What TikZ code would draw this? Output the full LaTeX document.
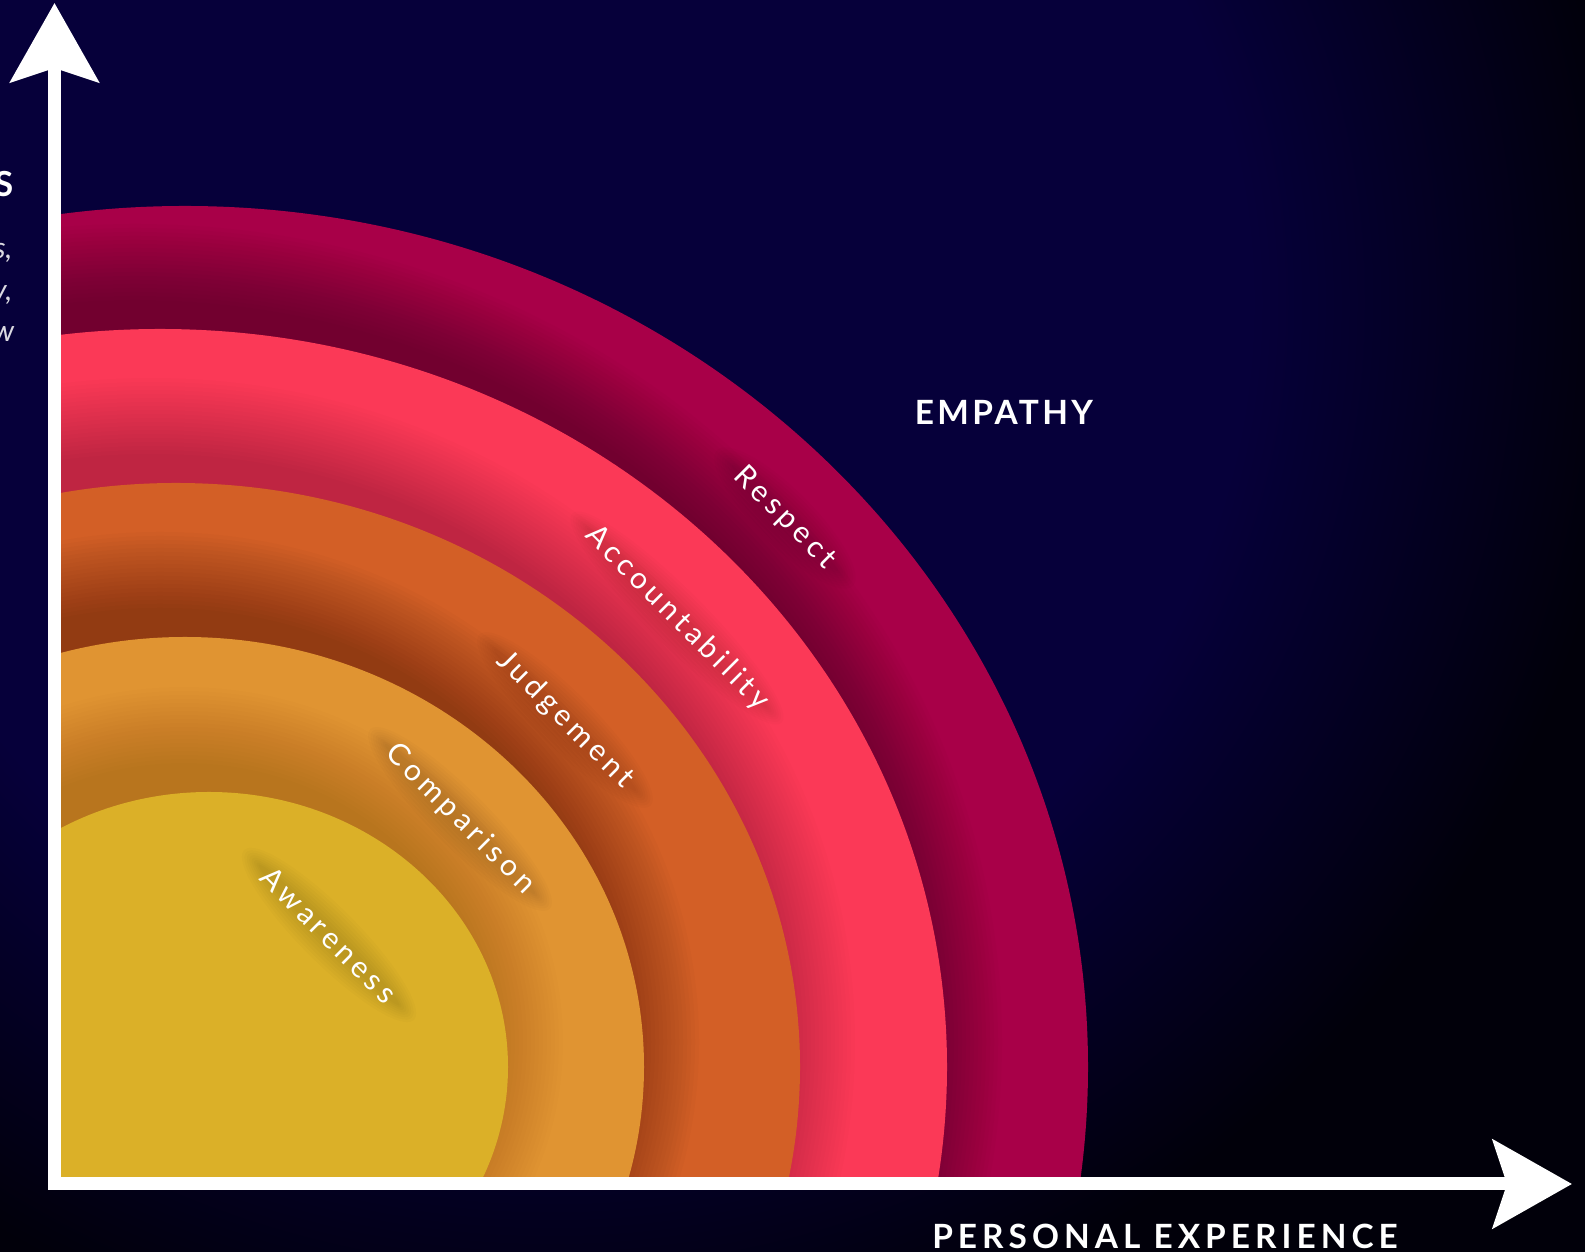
\documentclass[tikz,border=0pt]{standalone}
\usepackage{fontspec}
\setmainfont{Lato}
\usetikzlibrary{arrows.meta}
\definecolor{bgnavy}{HTML}{06003A}
\definecolor{bgdark}{HTML}{01000A}
\definecolor{respectred}{HTML}{A80048}
\definecolor{accountpink}{HTML}{FB3957}
\definecolor{judgeorange}{HTML}{D35F26}
\definecolor{compareamber}{HTML}{E09432}
\definecolor{awareyellow}{HTML}{DBB028}
\pgfdeclareradialshading{bgglow}{\pgfpoint{0bp}{0bp}}{%
  color(0bp)=(bgnavy); color(8.75bp)=(bgnavy); color(13.5bp)=(bgdark); color(50bp)=(bgdark)}

\begin{document}
\begin{tikzpicture}[
  x=0.01cm, y=0.01cm,
  glow/.style={fill=black, opacity=#1},
  halo/.style={fill=black, opacity=0.015},
  ringlabel/.style={text=white, rotate=-45, inner sep=0pt,
                    font=\fontsize{8.5}{10}\selectfont\addfontfeatures{LetterSpace=15}},
  axislabel/.style={text=white, inner sep=0pt,
                    font=\fontsize{9.5}{11}\selectfont\bfseries\addfontfeatures{LetterSpace=#1}},
  axislabel/.default=10,
  sidenote/.style={text=white!85!bgnavy, inner sep=0pt, font=\fontsize{8.4}{10}\selectfont\itshape},
  axis/.style={draw=white, line width=0.13cm, line join=miter,
               {Stealth[length=0.79cm, width=0.88cm, inset=0.14cm]}-{Stealth[length=0.79cm, width=0.88cm, inset=0.14cm]}}
]

% Background
\useasboundingbox (0,0) rectangle (1585,1252);
\begin{scope}
  \clip (0,0) rectangle (1585,1252);
  \shade[shading=bgglow] (-1450,-1050) rectangle (2550,2950);
\end{scope}

% Axes end points
\coordinate (origin) at (54.5,68);
\coordinate (ytip) at (54.5,1249);
\coordinate (xtip) at (1572,68);

% Rings, outermost first; inner ones cast a soft shadow
\begin{scope}
  \clip (origin) rectangle (1585,1252);
  \fill[respectred] (185,185) ellipse [x radius=903, y radius=861];
  \foreach \cx/\a/\b/\col/\op in {160/787/738/accountpink/0.015, 176/624/584/judgeorange/0.011,
                                  185/459/430/compareamber/0.015, 209/299/275/awareyellow/0.008} {
    \foreach \s in {1,...,20}
      \fill[glow=\op] (\cx-25,210) ellipse [x radius=\a+4*\s, y radius=\b+4*\s];
    \fill[fill=\col] (\cx,185) ellipse [x radius=\a, y radius=\b];
  }
\end{scope}

% Ring labels with a soft dark halo
\foreach \name/\x/\y/\len/\word in {respect/785/734/72/Respect,
                                    accountability/677/634/124/Accountability,
                                    judgement/565/532/97/Judgement,
                                    comparison/460/433/103/Comparison,
                                    awareness/329/317/96/Awareness} {
  \foreach \s in {1,...,8}
    \fill[halo, rotate around={-45:(\x,\y)}] (\x,\y) ellipse [x radius=\len+3*\s, y radius=4+3*\s];
  \node[ringlabel] (\name) at (\x,\y) {\word};
}

% Axes
\draw[axis] (ytip) -- (origin) -- (xtip);

% Axis labels
\node[axislabel] (empathy) at (1004,840) {EMPATHY};
\node[axislabel=15, anchor=base] (experience) at (1165,3) {PERSONAL EXPERIENCE};

% Cut-off text on the left edge
\node[text=white, inner sep=0pt, anchor=east, font=\fontsize{9.8}{11}\selectfont\bfseries] (yname) at (14,1068) {S};
\node[sidenote, anchor=base east] (sidea) at (13,993) {s,};
\node[sidenote, anchor=base east] (sideb) at (13,951) {y,};
\node[sidenote, anchor=base east] (sidec) at (15,910) {w};

\end{tikzpicture}
\end{document}
